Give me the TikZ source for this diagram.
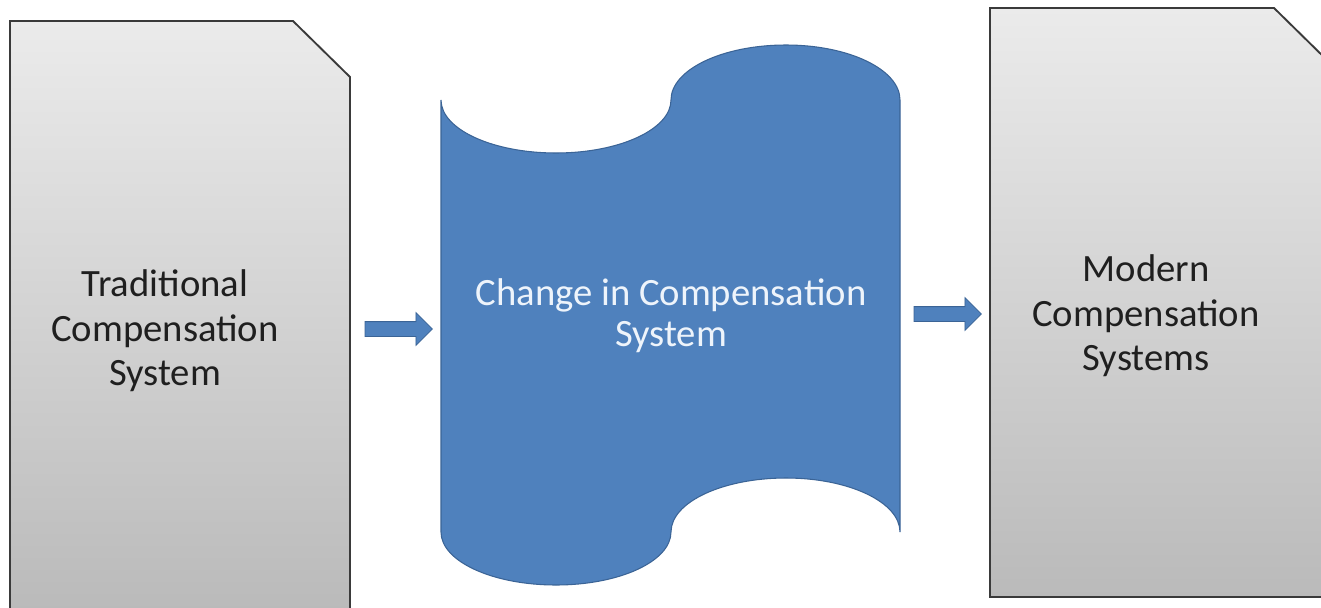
\documentclass[tikz,border=0pt]{standalone}
\usepackage{fontspec}
\setmainfont{Carlito}
\usetikzlibrary{shapes.arrows}

\definecolor{boxtop}{HTML}{EBEBEB}
\definecolor{boxbottom}{HTML}{BABABA}
\definecolor{boxline}{HTML}{3A3A3A}
\definecolor{tapeblue}{HTML}{4F81BD}
\definecolor{tapeline}{HTML}{3B6496}
\definecolor{tapetextcol}{HTML}{EEF4FB}

\begin{document}
\begin{tikzpicture}[x=0.75pt, y=-0.75pt, line join=miter,
	docbox/.style={draw=boxline, line width=1.4pt, top color=boxtop, bottom color=boxbottom},
	docText/.style={align=center, text=black!88, font=\fontsize{29}{33.4}\selectfont},
	blockarrow/.style={single arrow, single arrow head extend=6.75pt, inner xsep=0pt, inner ysep=5.25pt,
		minimum width=0pt, minimum height=50.5pt, fill=tapeblue, draw=tapeline, line width=0.6pt}]
	
	\useasboundingbox (0, 0) rectangle (1321, 607);
	
	% Hệ thống cũ
	\draw[docbox] (10, 612) -- (10, 21) -- (293, 21) -- (350, 77) -- (350, 612) -- cycle;
	\node[docText] (trad) at (165, 331) {Traditional\\Compensation\\System};
	
	% Băng thay đổi
	\draw[fill=tapeblue, draw=tapeline, line width=0.8pt]
		(441, 100) .. controls (441, 129.3) and (492.5, 153) .. (556, 153)
		.. controls (619.5, 153) and (671, 129.3) .. (671, 100)
		.. controls (671, 69.6) and (722.5, 45) .. (786, 45)
		.. controls (849, 45) and (900, 69.6) .. (900, 100)
		-- (900, 532)
		.. controls (900, 502.2) and (849, 478) .. (786, 478)
		.. controls (722.5, 478) and (671, 502.2) .. (671, 532)
		.. controls (671, 561.3) and (619.5, 585) .. (556, 585)
		.. controls (492.5, 585) and (441, 561.3) .. (441, 532) -- cycle;
	\node[align=center, text=tapetextcol, font=\fontsize{29}{30.8}\selectfont] (change) at (671, 316) {Change in Compensation\\System};
	
	% Hệ thống mới
	\draw[docbox] (990, 597) -- (990, 8) -- (1274, 8) -- (1331, 64) -- (1331, 597) -- cycle;
	\node[docText] (modern) at (1146, 316) {Modern\\Compensation\\Systems};
	
	% Mũi tên
	\node[blockarrow] (arrowIn) at (395, 329) {};
	\node[blockarrow] (arrowOut) at (944, 314) {};
	
\end{tikzpicture}
\end{document}
